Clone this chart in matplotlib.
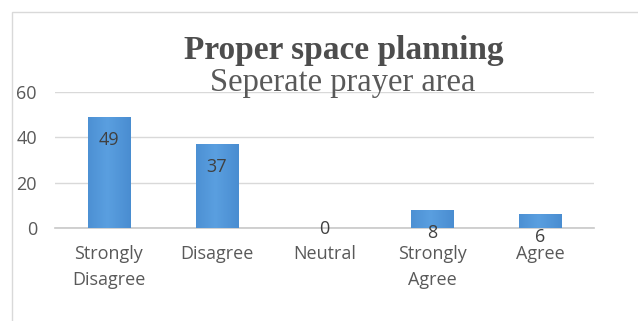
import numpy as np
import matplotlib
matplotlib.use("Agg")
import matplotlib.pyplot as plt
from matplotlib.patches import Rectangle

# survey answers for the prayer area question
categories = ["Strongly\nDisagree", "Disagree", "Neutral", "Strongly\nAgree", "Agree"]
counts = [49, 37, 0, 8, 6]
y_ticks = [0, 20, 40, 60]

title = "Proper space planning"
subtitle = "Seperate prayer area"

plt.rcParams["font.family"] = ["Open Sans", "DejaVu Sans"]
text_grey = "#595959"

fig = plt.figure(figsize=(6.38, 3.21), dpi=100)
fig.patch.set_facecolor("white")

# light frame round the chart area
fig.patches.append(Rectangle((12 / 638, -0.1), 1.2, 1 - 12 / 321 + 0.1,
                             transform=fig.transFigure, fill=False,
                             edgecolor="#d9d9d9", linewidth=1.0))

ax = fig.add_axes([55 / 638, 1 - 228 / 321, 539 / 638, 136 / 321])
x = np.arange(len(categories))
bars = ax.bar(x, counts, width=0.39, color="#4a8dd3", edgecolor="#3d7cc0",
              linewidth=0.6, zorder=3)

# soft horizontal shading on each bar
grad = np.linspace(0, 1, 64)
grad = 1 - np.abs(grad - 0.45) * 0.8
grad = np.tile(grad, (2, 1))
cmap = matplotlib.colors.LinearSegmentedColormap.from_list("bar", ["#3576bd", "#5a9fe0"])
for b in bars:
    if b.get_height() <= 0:
        continue
    im = ax.imshow(grad, cmap=cmap, aspect="auto", zorder=3.5,
                   extent=[b.get_x(), b.get_x() + b.get_width(), 0, b.get_height()],
                   vmin=0, vmax=1)
    im.set_clip_path(b)

ax.set_xlim(-0.5, len(categories) - 0.5)
ax.set_ylim(0, 60)
ax.set_yticks(y_ticks)
ax.set_xticks(x)
ax.set_xticklabels(categories, fontsize=13, color=text_grey, linespacing=1.6)
ax.tick_params(axis="y", length=0, pad=13, labelsize=13, labelcolor=text_grey)
ax.tick_params(axis="x", length=0, pad=12)
ax.grid(axis="y", color="#d9d9d9", linewidth=1.0, zorder=0)
for s in ["top", "right", "left"]:
    ax.spines[s].set_visible(False)
ax.spines["bottom"].set_color("#c8c8c8")
ax.spines["bottom"].set_linewidth(1.2)

# value labels sit just inside the bar end, zero sits on the axis
for xi, v in zip(x, counts):
    off = -16.5 if v > 0 else -1
    ax.annotate(str(v), (xi, v), xytext=(0, off), textcoords="offset points",
                ha="center", va="center", fontsize=13, color="#404040", zorder=5)

fig.text(344 / 638, 1 - 59 / 321, title, ha="center", va="baseline",
         fontsize=24, fontweight="bold", family="Liberation Serif", color="#4d4d4d")
fig.text(343 / 638, 1 - 91 / 321, subtitle, ha="center", va="baseline",
         fontsize=23.5, family="Liberation Serif", color="#595959")

fig.savefig("out.png", dpi=100, facecolor="white")
